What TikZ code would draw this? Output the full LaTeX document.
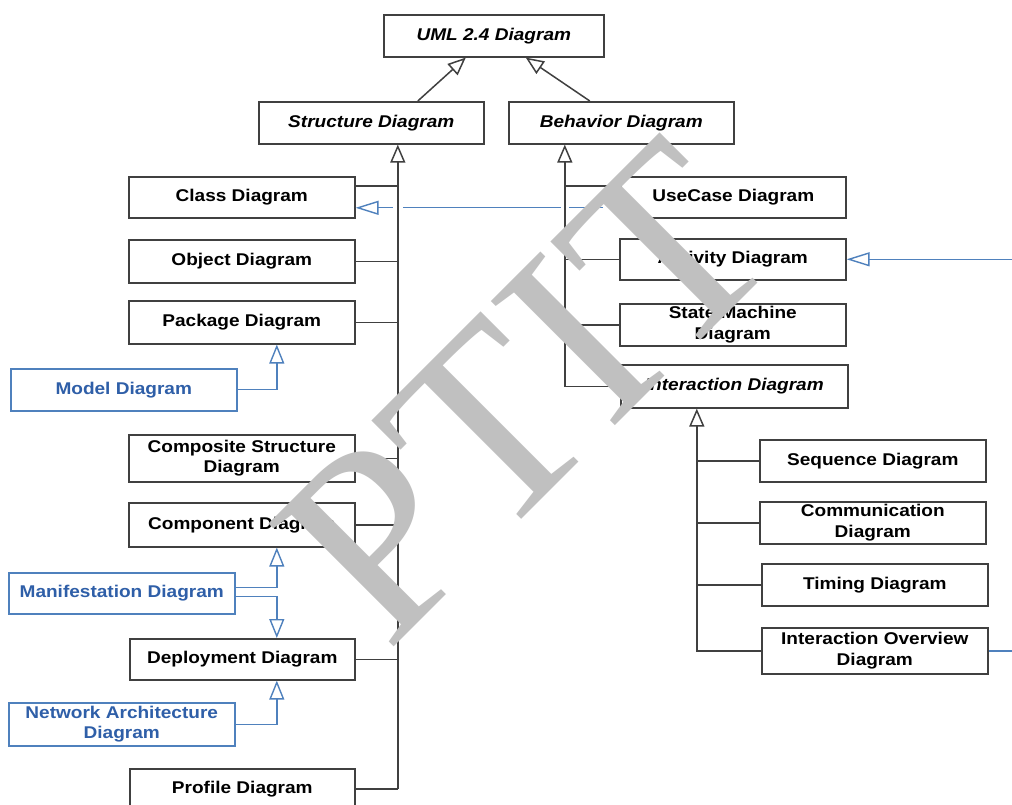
\documentclass[tikz,border=0pt]{standalone}
\usepackage{fontspec}
\usetikzlibrary{arrows.meta}
\newfontfamily\boxfont[FakeStretch=1.12]{Liberation Sans}
\newfontfamily\markfont{Liberation Serif}
\definecolor{edge}{RGB}{64,64,64}
\definecolor{ublue}{RGB}{79,129,189}
\definecolor{utext}{RGB}{47,95,168}
\definecolor{wmark}{RGB}{192,192,192}
\begin{document}
\begin{tikzpicture}[x=1pt,y=-1pt,
  box/.style={draw=edge, line width=1.6pt, fill=white, inner sep=0pt, align=center,
    font=\boxfont\fontsize{17}{20.5}\selectfont\bfseries, anchor=north west},
  abox/.style={box, font=\boxfont\fontsize{17}{20.5}\selectfont\bfseries\itshape},
  ext/.style={box, draw=ublue, text=utext, line width=1.5pt},
  link/.style={draw=edge, line width=1.5pt},
  gen/.style={link, -{Triangle[open, length=18pt, width=15pt]}},
  bline/.style={draw=ublue, line width=1.4pt},
  bgen/.style={bline, -{Triangle[open, length=19pt, width=15pt]}},
  hgen/.style={bline, -{Triangle[open, length=23pt, width=14pt]}}]

\fill[white] (0,0) rectangle (1012,805);
\useasboundingbox (0,0) rectangle (1012,805);

% abstract diagram kinds
\node[abox, minimum width=220pt, minimum height=42pt] (uml) at (383,14) {UML 2.4 Diagram};
\node[abox, minimum width=225pt, minimum height=42pt] (struct) at (258,101) {Structure Diagram};
\node[abox, minimum width=225pt, minimum height=42pt] (behav) at (508,101) {Behavior Diagram};

% structure diagrams
\node[box, minimum width=226pt, minimum height=41pt] (class) at (128,176) {Class Diagram};
\node[box, minimum width=226pt, minimum height=43pt] (object) at (128,239) {Object Diagram};
\node[box, minimum width=226pt, minimum height=43pt] (package) at (128,300) {Package Diagram};
\node[ext, minimum width=226pt, minimum height=42pt] (model) at (10,368) {Model Diagram};
\node[box, minimum width=226pt, minimum height=47pt] (composite) at (128,434) {Composite Structure\\Diagram};
\node[box, minimum width=226pt, minimum height=44pt] (component) at (128,502) {Component Diagram};
\node[ext, minimum width=226pt, minimum height=41pt] (manif) at (8,572) {Manifestation Diagram};
\node[box, minimum width=225pt, minimum height=41pt] (deploy) at (129,638) {Deployment Diagram};
\node[ext, minimum width=226pt, minimum height=43pt] (network) at (8,702) {Network Architecture\\Diagram};
\node[box, minimum width=225pt, minimum height=40pt] (profile) at (129,768) {Profile Diagram};

% behavior diagrams
\node[box, minimum width=225pt, minimum height=41pt] (usecase) at (620,176) {UseCase Diagram};
\node[box, minimum width=226pt, minimum height=41pt] (activity) at (619,238) {Activity Diagram};
\node[box, minimum width=226pt, minimum height=42pt] (state) at (619,303) {State Machine\\Diagram};
\node[abox, minimum width=227pt, minimum height=43pt] (inter) at (620,364) {Interaction Diagram};

% interaction diagrams
\node[box, minimum width=226pt, minimum height=42pt] (sequence) at (759,439) {Sequence Diagram};
\node[box, minimum width=226pt, minimum height=42pt] (comm) at (759,501) {Communication\\Diagram};
\node[box, minimum width=226pt, minimum height=42pt] (timing) at (761,563) {Timing Diagram};
\node[box, minimum width=226pt, minimum height=46pt] (overview) at (761,627) {Interaction Overview\\Diagram};

% generalisation to the root
\draw[gen] ([xshift=46.5pt]struct.north) -- ([xshift=-28pt]uml.south);
\draw[gen] ([xshift=-31.5pt]behav.north) -- ([xshift=32pt]uml.south);

% structure trunk
\coordinate (st) at ([xshift=26.5pt]struct.south);
\coordinate (classtop) at ([yshift=-10pt]class.north east);
\draw[gen] (st |- profile.east) -- (st);
\draw[link] (classtop) -- (st |- classtop);
\foreach \n in {object,package,composite,component,deploy,profile}
  \draw[link] (\n.east) -- (st |- \n.east);

% behavior trunk
\coordinate (bt) at ([xshift=-56.5pt]behav.south);
\coordinate (usetop) at ([yshift=-10pt]usecase.north west);
\draw[gen] (inter.west) -| (bt);
\draw[link] (usetop) -- (bt |- usetop);
\foreach \n in {activity,state}
  \draw[link] (\n.west) -- (bt |- \n.west);

% interaction trunk
\coordinate (it) at ([xshift=-37.5pt]inter.south);
\draw[gen] (overview.west) -| (it);
\foreach \n in {sequence,comm,timing}
  \draw[link] (\n.west) -- (it |- \n.west);

% extension diagrams
\draw[bgen] (model.east) -| ([xshift=35pt]package.south);
\draw[bgen] ([yshift=5.5pt]manif.east) -| ([xshift=35pt]component.south);
\draw[bgen] ([yshift=-3.5pt]manif.east) -| ([xshift=34.5pt]deploy.north);
\draw[bgen] (network.east) -| ([xshift=34.5pt]deploy.south);

% incoming links from the right
\coordinate (xfar) at (603,0);
\coordinate (redge) at (1012,0);
\coordinate (ctip) at ([yshift=-10.5pt]class.east);
\coordinate (cfar) at (ctip -| xfar);
\draw[bline] (cfar) -- ([xshift=4pt]ctip -| bt);
\draw[bline] ([xshift=-4pt]ctip -| bt) -- ([xshift=5pt]ctip -| st);
\draw[hgen] ([xshift=-5pt]ctip -| st) -- (ctip);
\draw[hgen] (activity.east -| redge) -- (activity.east);
\draw[bline] (overview.east) -- (overview.east -| redge);

% watermark
\node[rotate=45, anchor=base west, text=wmark, inner sep=0pt, font=\markfont\fontsize{268}{268}\selectfont] (mark) at (387,654) {PTIT};
\end{tikzpicture}
\end{document}
